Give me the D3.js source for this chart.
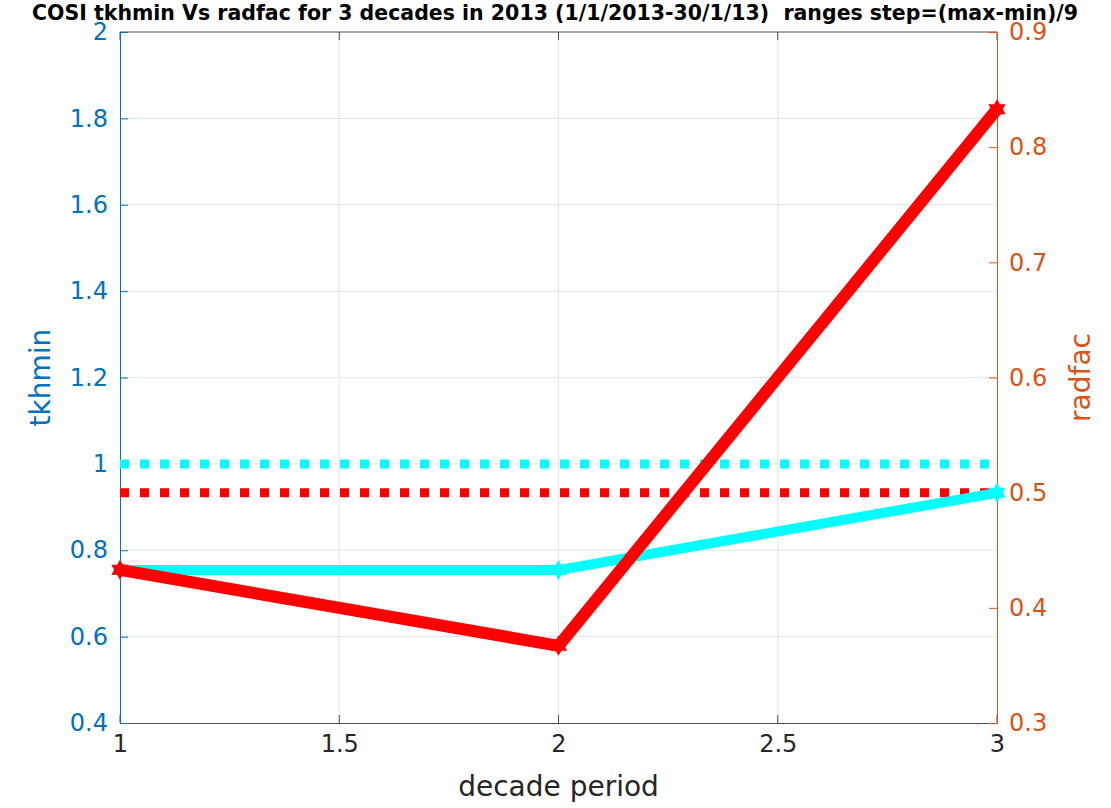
<!DOCTYPE html>
<html><head><meta charset="utf-8">
<script src="https://cdn.jsdelivr.net/npm/d3@7"></script>
<style>body{margin:0;background:#fff}svg{display:block}</style>
</head><body>
<script>
const decades = [1, 2, 3];
const tkhmin = [0.754, 0.754, 0.933];
const radfac = [0.433, 0.367, 0.833];
const tkhminRef = 1.0;
const radfacRef = 0.5;
const xTicks = [1, 1.5, 2, 2.5, 3];
const yLeftTicks = [0.4, 0.6, 0.8, 1, 1.2, 1.4, 1.6, 1.8, 2];
const yRightTicks = [0.3, 0.4, 0.5, 0.6, 0.7, 0.8, 0.9];
const titleText = "COSI tkhmin Vs radfac for 3 decades in 2013 (1/1/2013-30/1/13)  ranges step=(max-min)/9";

const W = 1111, H = 808;
const L = 120, R = 997, T = 32, B = 723;
const font = "DejaVu Sans, sans-serif";
const cLeft = "#0072BD", cRight = "#D95319", cText = "#262626";

const svg = d3.select("body").append("svg").attr("width", W).attr("height", H);
const x = d3.scaleLinear().domain([1, 3]).range([L, R]);
const yL = d3.scaleLinear().domain([0.4, 2]).range([B, T]);
const yR = d3.scaleLinear().domain([0.3, 0.9]).range([B, T]);

// grid
const grid = svg.append("g").attr("stroke", "#dfe3ea").attr("stroke-width", 1);
xTicks.slice(1, -1).forEach(v => grid.append("line").attr("x1", x(v)).attr("x2", x(v)).attr("y1", T).attr("y2", B));
yLeftTicks.slice(1, -1).forEach(v => grid.append("line").attr("x1", L).attr("x2", R).attr("y1", yL(v)).attr("y2", yL(v)));

// axes
const gx = svg.append("g").attr("transform", `translate(0,${B})`)
  .call(d3.axisBottom(x).tickValues(xTicks).tickSize(0).tickPadding(10).tickFormat(d3.format("")));
gx.select(".domain").attr("stroke", "#4d4d4d");
gx.selectAll("text").attr("font-family", font).attr("font-size", 24).attr("fill", cText).attr("dy", "0.78em");
xTicks.forEach(v => {
  svg.append("line").attr("x1", x(v)).attr("x2", x(v)).attr("y1", B).attr("y2", B - 8).attr("stroke", "#4d4d4d");
  svg.append("line").attr("x1", x(v)).attr("x2", x(v)).attr("y1", T).attr("y2", T + 8).attr("stroke", "#4d4d4d");
});
svg.append("line").attr("x1", L).attr("x2", R).attr("y1", T).attr("y2", T).attr("stroke", "#4d4d4d");

const gl = svg.append("g").attr("transform", `translate(${L},0)`)
  .call(d3.axisLeft(yL).tickValues(yLeftTicks).tickSizeInner(-8).tickSizeOuter(0).tickPadding(12).tickFormat(d3.format("")));
gl.selectAll("path,line").attr("stroke", cLeft);
gl.selectAll("text").attr("font-family", font).attr("font-size", 24).attr("fill", cLeft);

const gr = svg.append("g").attr("transform", `translate(${R},0)`)
  .call(d3.axisRight(yR).tickValues(yRightTicks).tickSizeInner(-8).tickSizeOuter(0).tickPadding(12).tickFormat(d3.format("")));
gr.selectAll("path,line").attr("stroke", cRight);
gr.selectAll("text").attr("font-family", font).attr("font-size", 24).attr("fill", cRight);

// reference dotted lines
svg.append("line").attr("x1", x(1)).attr("x2", x(3)).attr("y1", yL(tkhminRef)).attr("y2", yL(tkhminRef))
  .attr("stroke", "#00ffff").attr("stroke-width", 9).attr("stroke-dasharray", "9,11");
svg.append("line").attr("x1", x(1)).attr("x2", x(3)).attr("y1", yR(radfacRef)).attr("y2", yR(radfacRef))
  .attr("stroke", "#ff0000").attr("stroke-width", 9).attr("stroke-dasharray", "9,11");

// hexagram marker
function hexagram(r) {
  const tri = a0 => d3.range(3).map(k => { const a = a0 + k * 2 * Math.PI / 3; return [r * Math.sin(a), -r * Math.cos(a)]; });
  const p = pts => "M" + pts.map(q => q.join(",")).join("L") + "Z";
  return p(tri(0)) + p(tri(Math.PI));
}
const mk = hexagram(10);

svg.append("path").datum(decades.map((d, i) => [d, tkhmin[i]]))
  .attr("d", d3.line().x(d => x(d[0])).y(d => yL(d[1])))
  .attr("fill", "none").attr("stroke", "#00ffff").attr("stroke-width", 10).attr("stroke-linejoin", "round");
decades.forEach((d, i) => svg.append("path").attr("d", mk).attr("transform", `translate(${x(d)},${yL(tkhmin[i])})`).attr("fill", "#00ffff"));

svg.append("path").datum(decades.map((d, i) => [d, radfac[i]]))
  .attr("d", d3.line().x(d => x(d[0])).y(d => yR(d[1])))
  .attr("fill", "none").attr("stroke", "#ff0000").attr("stroke-width", 12).attr("stroke-linejoin", "round");
decades.forEach((d, i) => svg.append("path").attr("d", mk).attr("transform", `translate(${x(d)},${yR(radfac[i])})`).attr("fill", "#ff0000"));

// labels
svg.append("text").attr("x", (L + R) / 2).attr("y", 796).attr("text-anchor", "middle")
  .attr("font-family", font).attr("font-size", 28).attr("fill", cText).text("decade period");
svg.append("text").attr("transform", `translate(50,${(T + B) / 2}) rotate(-90)`).attr("text-anchor", "middle")
  .attr("font-family", font).attr("font-size", 28).attr("fill", cLeft).text("tkhmin");
svg.append("text").attr("transform", `translate(1090,${(T + B) / 2}) rotate(-90)`).attr("text-anchor", "middle")
  .attr("font-family", font).attr("font-size", 28).attr("fill", cRight).text("radfac");
svg.append("text").attr("x", 555).attr("y", 20).attr("text-anchor", "middle")
  .style("white-space", "pre").attr("xml:space", "preserve")
  .attr("font-family", font).attr("font-weight", "bold").attr("font-size", 20.5).attr("fill", "#000").text(titleText);
</script>
</body></html>
